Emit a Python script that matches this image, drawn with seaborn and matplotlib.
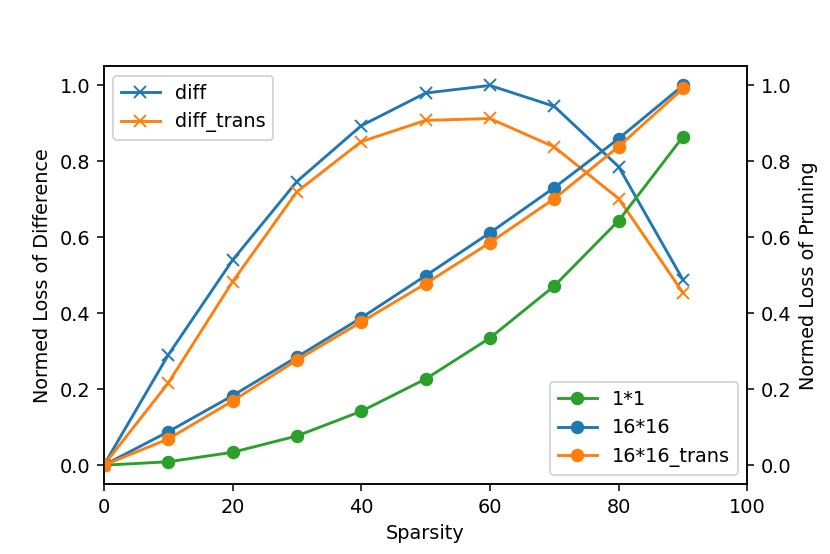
import numpy as np
import pandas as pd
import seaborn as sns
import matplotlib.pyplot as plt

#########################
# DATA
sparsity = [0, 10, 20, 30, 40, 50, 60, 70, 80, 90]

diff = [0.0, 0.290, 0.540, 0.747, 0.894, 0.980, 1.000, 0.945, 0.786, 0.488]
diff_trans = [0.0, 0.216, 0.483, 0.720, 0.852, 0.908, 0.913, 0.838, 0.702, 0.454]

prune_1x1 = [0.0, 0.009, 0.034, 0.077, 0.142, 0.227, 0.335, 0.472, 0.644, 0.865]
prune_16x16 = [0.0, 0.088, 0.183, 0.285, 0.388, 0.499, 0.612, 0.731, 0.860, 1.000]
prune_16x16_trans = [0.0, 0.069, 0.169, 0.277, 0.377, 0.478, 0.586, 0.702, 0.839, 0.992]

df = pd.DataFrame({
    'sparsity': sparsity,
    'diff': diff,
    'diff_trans': diff_trans,
    '1*1': prune_1x1,
    '16*16': prune_16x16,
    '16*16_trans': prune_16x16_trans,
})

###########
# PLOT
fig = plt.figure(figsize=(6, 4.003), dpi=138.4)
ax = fig.add_subplot(111)
fig.subplots_adjust(left=0.125, right=0.9, top=0.88, bottom=0.126)

line_kws = dict(linewidth=1.5, markersize=6, markeredgewidth=1.0)

#left axis: difference losses
for col, c in [('diff', 'C0'), ('diff_trans', 'C1')]:
    sns.lineplot(data=df, x='sparsity', y=col, ax=ax, label=col, color=c,
                 marker='x', markeredgecolor=c, **line_kws)

ax2 = ax.twinx()
#right axis: pruning losses
for col, c in [('1*1', 'C2'), ('16*16', 'C0'), ('16*16_trans', 'C1')]:
    sns.lineplot(data=df, x='sparsity', y=col, ax=ax2, label=col, color=c,
                 marker='o', markeredgecolor=c, **line_kws)

ax.set_xlim(0, 100)
ax.set_ylim(-0.05, 1.05)
ax2.set_ylim(-0.05, 1.05)
ax.set_xlabel('Sparsity')
ax.set_ylabel('Normed Loss of Difference')
ax2.set_ylabel('Normed Loss of Pruning')

ax.legend(loc='upper left')
ax2.legend(loc='lower right')

fig.savefig('out.png', dpi=138.4)
